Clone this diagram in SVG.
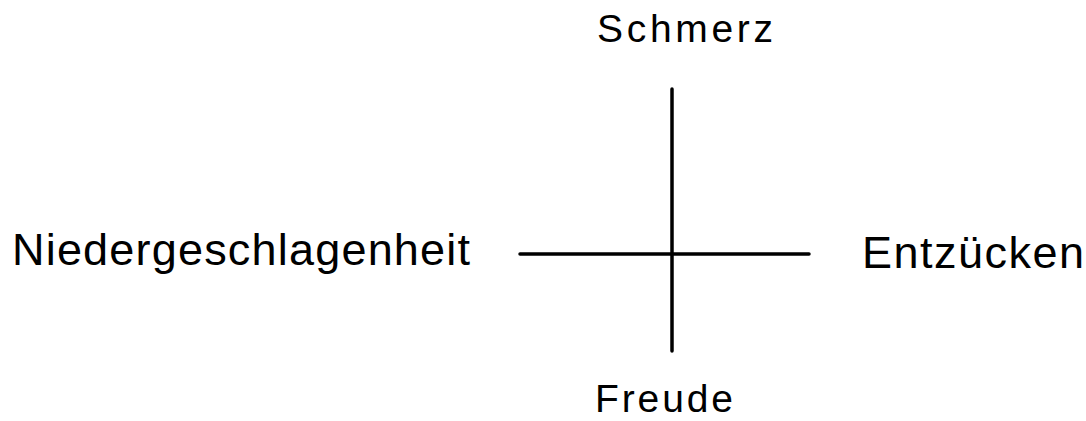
<svg xmlns="http://www.w3.org/2000/svg" width="1086" height="421" viewBox="0 0 1086 421">
<style>
text{font-family:"Liberation Sans","Open Sans",sans-serif;fill:#000}
.v{font-size:39px}
.h{font-size:45px}
.ax{stroke:#000;stroke-width:3.5;stroke-linecap:round;fill:none}
</style>
<rect width="1086" height="421" fill="#fff"/>
<g id="connectors">
<line class="ax" x1="672" y1="89" x2="672" y2="351"/>
<line class="ax" x1="520" y1="254" x2="809" y2="254"/>
</g>
<g id="schmerz"><text class="v" x="597" y="42" font-size="40" textLength="176" lengthAdjust="spacing">Schmerz</text></g>
<g id="freude"><text class="v" x="595" y="412" textLength="138" lengthAdjust="spacing">Freude</text></g>
<g id="niedergeschlagenheit"><text class="h" x="12" y="265" textLength="458" lengthAdjust="spacing">Niedergeschlagenheit</text></g>
<g id="entzuecken"><text class="h" x="862" y="268" textLength="222" lengthAdjust="spacing">Entzücken</text></g>
</svg>
